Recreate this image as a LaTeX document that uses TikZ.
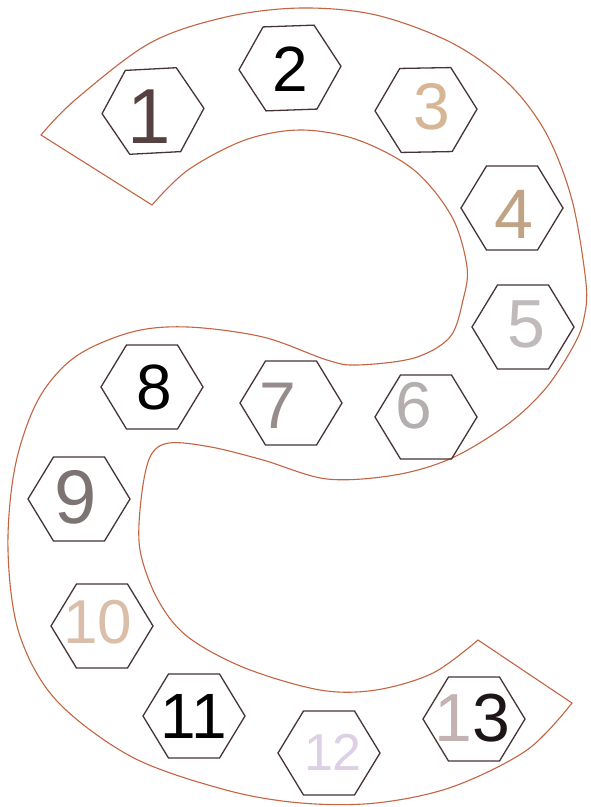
\documentclass[tikz,border=0pt]{standalone}
\usepackage{fontspec}
\setmainfont{Liberation Sans}
\definecolor{bandline}{RGB}{196,100,66}
\definecolor{hexline}{RGB}{70,52,52}
\definecolor{cA}{RGB}{85,65,65}
\definecolor{cC}{RGB}{215,182,150}
\definecolor{cD}{RGB}{192,162,132}
\definecolor{cE}{RGB}{192,186,186}
\definecolor{cF}{RGB}{180,174,174}
\definecolor{cG}{RGB}{150,140,140}
\definecolor{cI}{RGB}{125,115,115}
\definecolor{cJ}{RGB}{218,190,170}
\definecolor{cL}{RGB}{222,208,228}
\definecolor{cM}{RGB}{195,178,178}
\definecolor{cP}{RGB}{30,22,22}
\tikzset{
  band/.style={draw=bandline, line width=1.1pt},
  hexcell/.style={draw=hexline, line width=1.3pt},
  printed/.style={font=\fontsize{64}{70}\selectfont, text=black, inner sep=0pt},
  hand/.style={inner sep=0pt},
}
\begin{document}
\begin{tikzpicture}[x=1pt,y=-1pt]
\useasboundingbox (0,0) rectangle (590,807);
\fill[white] (0,0) rectangle (590,807);
% S-shaped band
\draw[band] plot[smooth, tension=0.55] coordinates {(41,135) (75,100) (150,43) (226,17) (301,8) (376,15) (452,43) (508,83) (546,133) (572,200) (586,283) (584,318) (574,345) (546,388) (508,424) (452,458) (395,475) (327,479) (263,460) (211,447) (169,443) (150,457) (141,500) (140,550) (158,600) (188,637) (245,668) (320,690) (376,690) (433,673) (478,640)}
  -- plot[smooth, tension=0.55] coordinates {(572,703) (527,750) (452,787) (376,803) (301,803) (226,790) (132,757) (56,700) (19,633) (8,550) (15,467) (38,400) (75,357) (132,332) (188,327) (263,337) (327,360) (357,365) (414,358) (450,337) (463,300) (467,267) (452,217) (414,170) (358,140) (301,130) (245,140) (188,170) (152,205)}
  -- cycle;
% hexagons
\foreach \cx/\cy/\rot in {153/111/3, 290/68/2, 426/110/1, 512/208/0, 523/327/0, 426/417/0, 291/403/0, 152/387/0, 79/499/0, 102/626/0, 194/716/0, 329/753/0, 474/719/0}{
  \draw[hexcell, shift={(\cx,\cy)}, rotate=\rot] (-51,0) -- (-25.5,-42) -- (25.5,-42) -- (51,0) -- (25.5,42) -- (-25.5,42) -- cycle;
}
% labels
\node[hand, text=cA, font=\fontsize{78}{80}\selectfont] (n1) at (149,117) {1};
\node[printed] (n2) at (290,69) {2};
\node[hand, text=cC, font=\fontsize{66}{70}\selectfont] (n3) at (432,107) {3};
\node[hand, text=cD, font=\fontsize{70}{70}\selectfont] (n4) at (514,214) {4};
\node[hand, text=cE, font=\fontsize{68}{70}\selectfont] (n5) at (526,324) {5};
\node[hand, text=cF, font=\fontsize{66}{70}\selectfont] (n6) at (414,406) {6};
\node[hand, text=cG, font=\fontsize{66}{70}\selectfont] (n7) at (278,406) {7};
\node[printed] (n8) at (154,387) {8};
\node[hand, text=cI, font=\fontsize{76}{80}\selectfont] (n9) at (76,497) {9};
\node[hand, text=cJ, font=\fontsize{62}{70}\selectfont] (n10) at (98,622) {10};
\node[printed] (n11) at (194,716) {11};
\node[hand, text=cL, font=\fontsize{52}{60}\selectfont] (n12) at (333,752) {12};
\node[hand, font=\fontsize{68}{70}\selectfont] (n13) at (472,718) {\textcolor{cM}{1}\textcolor{cP}{3}};
\end{tikzpicture}
\end{document}
